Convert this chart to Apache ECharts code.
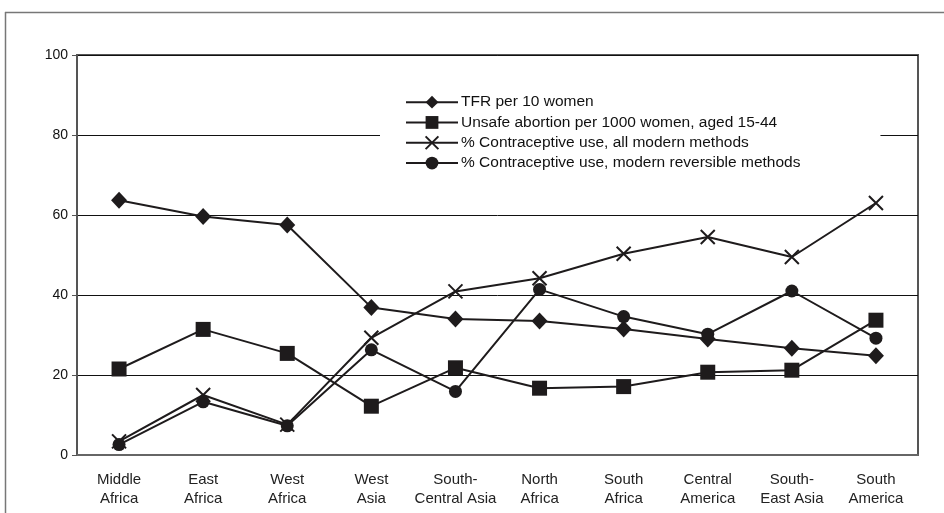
<!DOCTYPE html>
<html><head><meta charset="utf-8">
<script src="https://cdn.jsdelivr.net/npm/echarts@6/dist/echarts.min.js"></script>
<style>html,body{margin:0;padding:0;background:#fff}#c{width:944px;height:513px}</style>
</head><body><div id="c"></div>
<script>
const categories = ['Middle\nAfrica','East\nAfrica','West\nAfrica','West\nAsia','South-\nCentral Asia','North\nAfrica','South\nAfrica','Central\nAmerica','South-\nEast Asia','South\nAmerica'];
const tfr = [63.7, 59.6, 57.5, 36.9, 34.0, 33.5, 31.5, 29.0, 26.7, 24.8];
const unsafeAbortion = [21.5, 31.4, 25.4, 12.2, 21.8, 16.7, 17.1, 20.7, 21.2, 33.7];
const contraAllModern = [3.4, 15.0, 7.6, 29.3, 40.9, 44.2, 50.3, 54.5, 49.5, 63.0];
const contraReversible = [2.6, 13.3, 7.3, 26.3, 15.9, 41.4, 34.6, 30.2, 41.0, 29.2];
const yTicks = [0, 20, 40, 60, 80, 100];
const names = ['TFR per 10 women','Unsafe abortion per 1000 women, aged 15-44','% Contraceptive use, all modern methods','% Contraceptive use, modern reversible methods'];

const ink = '#1e1b1c';
const font = 'Liberation Sans, Arial, sans-serif';
const chart = echarts.init(document.getElementById('c'));
function mk(name, data, symbol, size, hollow){
  return {
    name, type:'line', data, symbol, symbolSize:size,
    lineStyle:{color:ink, width:2},
    itemStyle: hollow ? {color:'rgba(0,0,0,0)', borderColor:ink, borderWidth:2} : {color:ink},
    emphasis:{disabled:true}, animation:false, z:3
  };
}
chart.setOption({
  animation:false,
  textStyle:{fontFamily:font},
  graphic:[
    {type:'line', shape:{x1:5,y1:12.5,x2:944,y2:12.5}, style:{stroke:'#777', lineWidth:1.5}},
    {type:'line', shape:{x1:5.5,y1:12,x2:5.5,y2:513}, style:{stroke:'#777', lineWidth:1.5}}
  ],
  grid:{left:77, right:26, top:55, bottom:58, show:true, borderColor:'#555', borderWidth:2, backgroundColor:'#fff'},
  legend:{
    data:names, orient:'vertical', left:380, top:88,
    padding:[6,80,6,25], itemGap:4, itemWidth:52, itemHeight:16,
    backgroundColor:'#fff', selectedMode:false,
    textStyle:{fontSize:15.5, lineHeight:16.3, color:'#111', fontFamily:font, padding:[0,0,0,-2]}
  },
  xAxis:{
    type:'category', data:categories, boundaryGap:true,
    axisLine:{lineStyle:{color:'#666', width:2}}, axisTick:{show:false},
    axisLabel:{fontSize:15, color:'#222', lineHeight:19, margin:15, interval:0, fontFamily:font}
  },
  yAxis:{
    type:'value', min:0, max:100, interval:20,
    axisLine:{show:true, lineStyle:{color:'#555', width:2}},
    axisTick:{show:true, length:5, lineStyle:{color:'#555'}},
    axisLabel:{fontSize:14, color:'#111', margin:9, fontFamily:font, formatter:v=>yTicks.includes(v)?String(v):''},
    splitLine:{lineStyle:{color:'#111', width:1}}
  },
  series:[
    mk(names[0], tfr, 'diamond', [16,17]),
    mk(names[1], unsafeAbortion, 'rect', 15),
    mk(names[2], contraAllModern, 'path://M0,0 L10,10 M10,0 L0,10', 14, true),
    mk(names[3], contraReversible, 'circle', 13)
  ]
});
</script></body></html>
